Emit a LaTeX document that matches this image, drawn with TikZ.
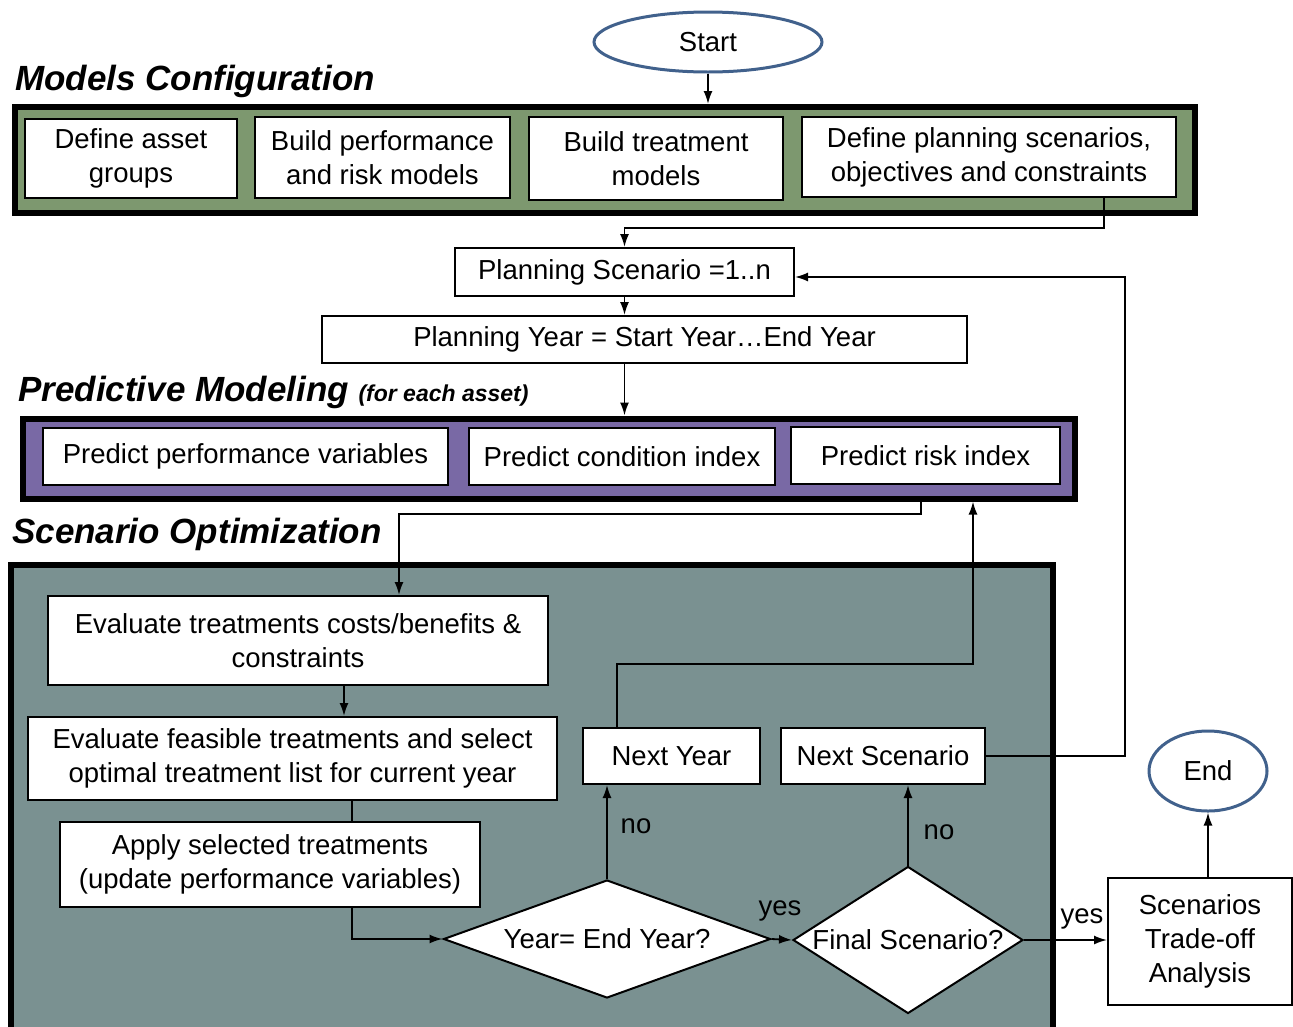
\documentclass[tikz,border=0pt]{standalone}
\usepackage{fontspec}
\setmainfont{Liberation Sans}
\usetikzlibrary{shapes.geometric,arrows.meta}
\definecolor{configgreen}{RGB}{125,152,111}
\definecolor{predictpurple}{RGB}{121,105,165}
\definecolor{optteal}{RGB}{122,145,145}
\definecolor{termblue}{RGB}{65,97,140}

\begin{document}
\begin{tikzpicture}
[x=1pt, y=-1pt,
every node/.style={font=\fontsize{27.5}{34}\selectfont},
procnode/.style={rectangle, draw=black, line width=2pt, fill=white, align=center, inner sep=0pt},
framenode/.style={rectangle, draw=black, line width=6pt, inner sep=0pt},
decisionnode/.style={diamond, draw=black, line width=2pt, fill=white, inner sep=0pt},
termnode/.style={ellipse, draw=termblue, line width=3pt, fill=white, inner sep=0pt},
titlenode/.style={font=\fontsize{35}{40}\selectfont\bfseries\itshape, anchor=base west, inner sep=0pt},
connect/.style={-{Latex[length=13pt,width=9pt]}, line width=1.8pt},
plainline/.style={line width=1.8pt}]
\useasboundingbox (0,0) rectangle (1293,1026);
\clip (0,0) rectangle (1293,1026);

\node[titlenode] (configtitle) at (15, 90) {Models Configuration};
\node[titlenode] (predicttitle) at (18, 401) {Predictive Modeling \fontsize{23}{26}\selectfont(for each asset)};
\node[titlenode] (opttitle) at (12, 543) {Scenario Optimization};

\node[framenode, fill=configgreen, minimum width=1180, minimum height=106] (configframe) at (605, 160) {};
\node[framenode, fill=predictpurple, minimum width=1052, minimum height=80] (predictframe) at (549, 458.5) {};
\node[framenode, fill=optteal, minimum width=1042, minimum height=480] (optframe) at (532, 805) {};

\node[termnode, minimum width=228, minimum height=60] (start) at (708, 42) {Start};
\node[procnode, minimum width=212, minimum height=79] (defgroups) at (131, 158) {Define asset\\groups};
\node[procnode, minimum width=255, minimum height=81] (buildperf) at (382.5, 157.5) {Build performance\\and risk models};
\node[procnode, minimum width=254, minimum height=83] (buildtreat) at (656, 158.5) {Build treatment\\models};
\node[procnode, minimum width=374, minimum height=80] (defscen) at (989, 157) {Define planning scenarios,\\objectives and constraints};
\node[procnode, minimum width=339, minimum height=48] (planscen) at (624.5, 272) {Planning Scenario =1..n};
\node[procnode, minimum width=645, minimum height=47] (planyear) at (644.5, 339.5) {Planning Year = Start Year\ldots End Year};
\node[procnode, minimum width=405, minimum height=57] (predperf) at (245.5, 456.5) {Predict performance variables};
\node[procnode, minimum width=306, minimum height=57] (predcond) at (622, 456.5) {Predict condition index};
\node[procnode, minimum width=269, minimum height=57] (predrisk) at (925.5, 455.5) {Predict risk index};
\node[procnode, minimum width=500, minimum height=89] (evalcost) at (298, 640.5) {Evaluate treatments costs/benefits \&\\constraints};
\node[procnode, minimum width=529, minimum height=83] (evalfeas) at (292.5, 758.5) {Evaluate feasible treatments and select\\optimal treatment list for current year};
\node[procnode, minimum width=420, minimum height=85] (applytreat) at (270, 864.5) {Apply selected treatments\\(update performance variables)};
\node[decisionnode, minimum width=327, minimum height=118] (yeardec) at (607, 939) {\makebox[0pt]{Year= End Year?}};
\node[decisionnode, minimum width=230, minimum height=147] (scendec) at (908, 940) {\makebox[0pt]{Final Scenario?}};
\node[procnode, minimum width=177, minimum height=56] (nextyear) at (671.5, 756) {Next Year};
\node[procnode, minimum width=204, minimum height=56] (nextscen) at (883, 756) {Next Scenario};
\node[procnode, minimum width=184, minimum height=127] (tradeoff) at (1200, 941.5) {Scenarios\\Trade-off\\Analysis};
\node[termnode, minimum width=118, minimum height=80] (endnode) at (1208, 771) {End};

\coordinate (scenbend) at (1104, 228);
\coordinate (riskbend) at (921, 514);
\coordinate (evalbend) at (399, 514);
\coordinate (costline) at (344, 0);
\coordinate (feasline) at (352, 0);
\coordinate (yearbend) at (617, 664);
\coordinate (loopbend) at (973, 664);
\coordinate (scenloop) at (1125, 277);

\draw[connect] (start.south) -- (start.south |- configframe.north);
\draw[connect] (scenbend |- defscen.south) -- (scenbend) -| (planscen.north);
\draw[connect] (planscen.south) -- (planscen.south |- planyear.north);
\draw[connect] (planscen.south |- planyear.south) -- (planscen.south |- predictframe.north);
\draw[connect] (riskbend |- predictframe.south) -- (riskbend) -- (evalbend) -- (evalbend |- evalcost.north);
\draw[connect] (costline |- evalcost.south) -- (costline |- evalfeas.north);
\draw[plainline] (feasline |- evalfeas.south) -- (feasline |- applytreat.north);
\draw[connect] (feasline |- applytreat.south) |- (yeardec.west);
\draw[connect] (yeardec.north) -- (yeardec.north |- nextyear.south);
\draw[connect] (yeardec.east) -- (scendec.west);
\draw[connect] (scendec.north) -- (scendec.north |- nextscen.south);
\draw[connect] (scendec.east) -- (scendec.east -| tradeoff.west);
\draw[connect] (tradeoff.north -| endnode.south) -- (endnode.south);
\draw[connect] (yearbend |- nextyear.north) -- (yearbend) -- (loopbend) -- (loopbend |- predictframe.south);
\draw[connect] (nextscen.east) -| (scenloop) -- (scenloop -| planscen.east);

\node (noyear) at (636, 826) {no};
\node (noscen) at (939, 832) {no};
\node (yesyear) at (780, 911) {yes};
\node (yesscen) at (1082, 919) {yes};

\end{tikzpicture}
\end{document}
